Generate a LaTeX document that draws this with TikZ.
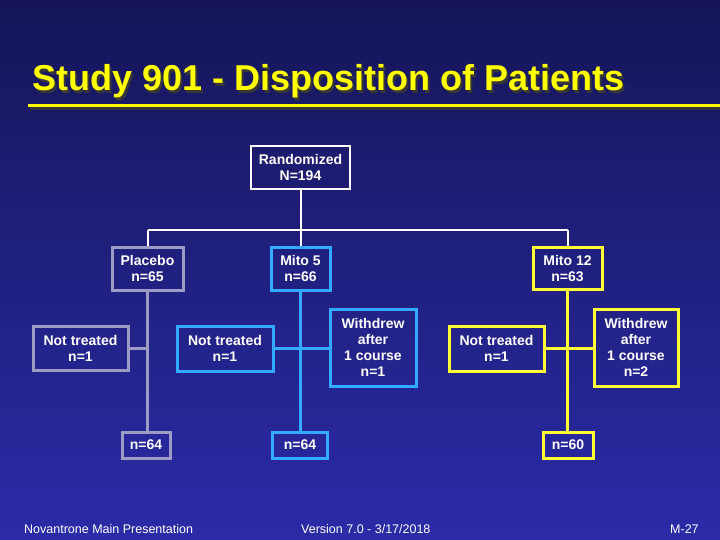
\documentclass[tikz,border=0pt]{standalone}
\usepackage{fontspec}
\setmainfont{Liberation Sans}
\definecolor{bgtop}{RGB}{21,21,88}
\definecolor{bgbot}{RGB}{43,43,168}
\definecolor{grayc}{RGB}{155,155,195}
\definecolor{bluec}{RGB}{51,170,255}
\definecolor{yellowc}{RGB}{255,255,51}
\definecolor{titley}{RGB}{255,255,0}
\definecolor{shadowc}{RGB}{55,55,55}
\newcommand{\shadowtitle}[1]{\makebox[0pt][l]{\hspace{2.5pt}\raisebox{-2.5pt}{\textcolor{shadowc}{#1}}}#1}
\tikzset{
  box/.style={draw, line width=3pt, inner sep=0pt, align=center, text=white,
    font=\fontsize{14}{16}\selectfont\bfseries},
  wbox/.style={box, line width=2pt, draw=white},
  gbox/.style={box, draw=grayc},
  bbox/.style={box, draw=bluec},
  ybox/.style={box, draw=yellowc},
  wline/.style={draw=white, line width=2pt},
  gline/.style={draw=grayc, line width=3pt},
  bline/.style={draw=bluec, line width=3pt},
  yline/.style={draw=yellowc, line width=3pt},
  foot/.style={text=white, inner sep=0pt, anchor=base west, font=\fontsize{12.5}{14}\selectfont}
}
\begin{document}
\begin{tikzpicture}[x=1pt,y=-1pt]
\useasboundingbox (0,0) rectangle (720,540);
\shade[top color=bgtop, bottom color=bgbot] (0,0) rectangle (720,540);
% title
\node[anchor=base west, inner sep=0pt, text=titley, font=\fontsize{36}{40}\selectfont\bfseries] (title) at (32,91) {\shadowtitle{Study 901 - Disposition of Patients}};
\coordinate (rl) at (28,106);
\coordinate (rr) at (720,106);
\draw[draw=shadowc, line width=3pt] ([shift={(1.5,2.5)}]rl) -- ([shift={(0,2.5)}]rr);
\draw[draw=titley, line width=3pt] (rl) -- (rr);
% boxes
\node[wbox, minimum width=99pt, minimum height=43pt] (rand) at (300.5,167.5) {Randomized\\N=194};
\node[gbox, minimum width=71pt, minimum height=43pt] (plac) at (147.5,268.5) {Placebo\\n=65};
\node[bbox, minimum width=59pt, minimum height=43pt] (m5) at (300.5,268.5) {Mito 5\\n=66};
\node[ybox, minimum width=69pt, minimum height=42pt] (m12) at (567.5,268.5) {Mito 12\\n=63};
\node[gbox, minimum width=95pt, minimum height=44pt] (ntp) at (80.5,348.5) {Not treated\\n=1};
\node[bbox, minimum width=96pt, minimum height=45pt] (nt5) at (225,348.5) {Not treated\\n=1};
\node[bbox, minimum width=86pt, minimum height=77pt] (wd5) at (373,347.5) {Withdrew\\after\\1 course\\n=1};
\node[ybox, minimum width=95pt, minimum height=45pt] (nt12) at (496.5,348.5) {Not treated\\n=1};
\node[ybox, minimum width=84pt, minimum height=77pt] (wd12) at (636,347.5) {Withdrew\\after\\1 course\\n=2};
\node[gbox, minimum width=48pt, minimum height=26pt] (fp) at (146,445) {n=64};
\node[bbox, minimum width=55pt, minimum height=26pt] (f5) at (300,445) {n=64};
\node[ybox, minimum width=50pt, minimum height=26pt] (f12) at (568,445) {n=60};
% connectors
\coordinate (busL) at (plac.north |- 0,230);
\coordinate (busM) at (m5.north |- 0,230);
\coordinate (busR) at (m12.north |- 0,230);
\draw[wline] (rand.south) -- (busM);
\draw[wline] (busL) -- (busR);
\draw[wline] (busL) -- (plac.north);
\draw[wline] (busM) -- (m5.north);
\draw[wline] (busR) -- (m12.north);
\draw[gline] (plac.south) -- (fp.north -| plac.south);
\draw[gline] (ntp.east) -- (ntp.east -| plac.south);
\draw[bline] (m5.south) -- (f5.north -| m5.south);
\draw[bline] (nt5.east) -- (wd5.west |- nt5.east);
\draw[yline] (m12.south) -- (f12.north -| m12.south);
\draw[yline] (nt12.east) -- (wd12.west |- nt12.east);
% footer
\node[foot] (f1) at (24,533) {Novantrone Main Presentation};
\node[foot] (f2) at (301,533) {Version 7.0 - 3/17/2018};
\node[foot] (f3) at (670,533) {M-27};
\end{tikzpicture}
\end{document}
